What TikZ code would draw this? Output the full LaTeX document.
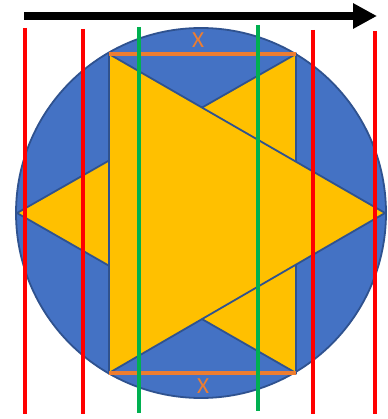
\documentclass[tikz,border=0pt]{standalone}
\usepackage{fontspec}
\setsansfont{Carlito}
\usetikzlibrary{arrows.meta}
\definecolor{discblue}{HTML}{4472C4}
\definecolor{rimblue}{HTML}{2F528F}
\definecolor{wedgegold}{HTML}{FFC000}
\definecolor{spanorange}{HTML}{ED7D31}
\definecolor{innergreen}{HTML}{00B050}
\definecolor{outerred}{HTML}{FF0000}

\begin{document}
\begin{tikzpicture}[
                x=1pt, y=-1pt,
                >=Stealth,
                piece/.style={fill=#1, draw=rimblue, line width=1.8pt, line join=miter},
                spanline/.style={spanorange, line width=4.5pt},
                innerline/.style={innergreen, line width=3.6pt},
                outerline/.style={outerred, line width=4.4pt},
                spanlabel/.style={font=\sffamily\fontsize{23}{23}\selectfont, text=spanorange, inner sep=0pt},
                ]

                \useasboundingbox (0,0) rectangle (387,419);

                % ── Geometry ──
                \coordinate (C) at (201,213);
                \def\R{185}

                \coordinate (TL) at (109,54);
                \coordinate (BL) at (109,373);
                \coordinate (TR) at (296,54);
                \coordinate (BR) at (296,373);
                \coordinate (tipL) at (17,213);
                \coordinate (tipR) at (385,213);

                % disc
                \draw[piece=discblue] (C) circle (\R);

                % left-pointing wedge, then right-pointing wedge on top
                \draw[piece=wedgegold] (TR) -- (tipL) -- (BR) -- cycle;
                \draw[piece=wedgegold] (TL) -- (tipR) -- (BL) -- cycle;

                % width marks
                \draw[spanline] (TL) -- (TR);
                \draw[spanline] (BL) -- (BR);
                \node[spanlabel] (xtop) at (198,40) {X};
                \node[spanlabel] (xbot) at (203,386) {X};

                % inner cuts
                \draw[innerline] (139,27) -- (139,413);
                \draw[innerline] (258,25) -- (258,411);

                % outer cuts
                \foreach \x/\y in {25/28, 83/29, 313/30, 375/31} {
                    \draw[outerline] (\x,\y) -- (\x,414);
                }

                % direction
                \coordinate (dirA) at (24,16);
                \coordinate (dirB) at (377,16);
                \draw[line width=8pt, -{Triangle[length=24pt, width=24pt]}] (dirA) -- (dirB);

\end{tikzpicture}
\end{document}
